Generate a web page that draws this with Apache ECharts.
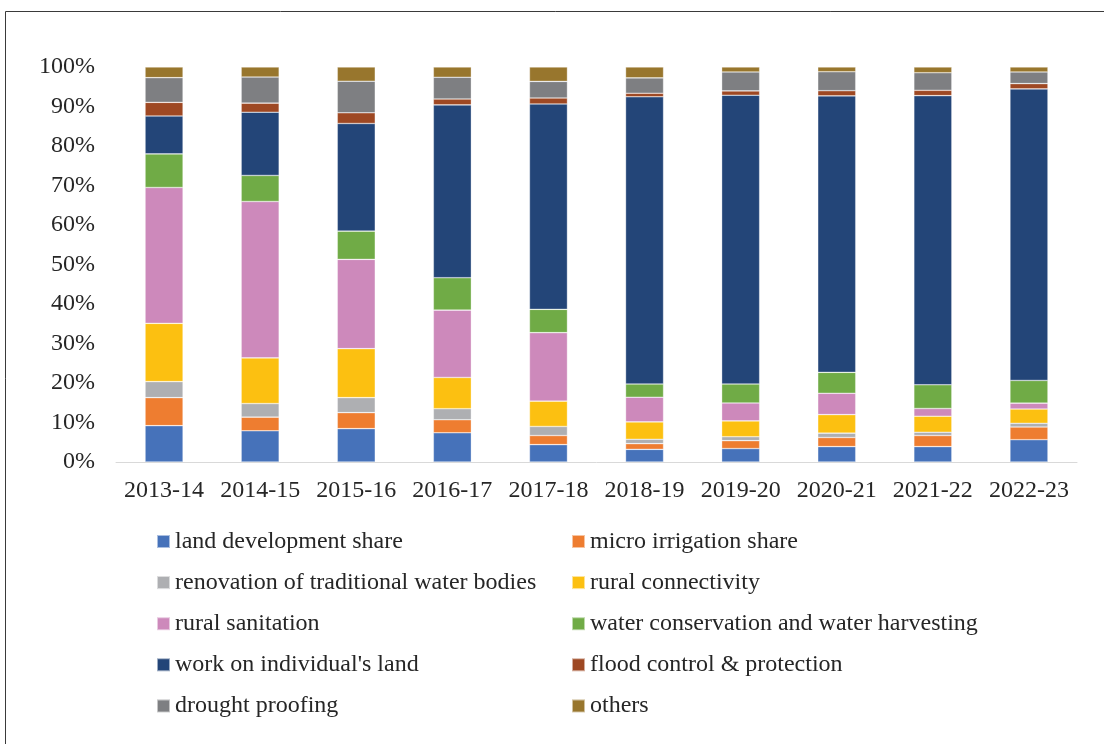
<!DOCTYPE html>
<html>
<head>
<meta charset="utf-8">
<script src="https://cdn.jsdelivr.net/npm/echarts@6/dist/echarts.min.js"></script>
<style>
html,body{margin:0;padding:0;background:#fff;}
#chart{width:1104px;height:744px;}
</style>
</head>
<body>
<div id="chart"></div>
<script>
const categories = ['2013-14','2014-15','2015-16','2016-17','2017-18','2018-19','2019-20','2020-21','2021-22','2022-23'];
const landDevelopment = [9.2, 7.9, 8.45, 7.4, 4.4, 3.2, 3.4, 3.9, 3.9, 5.65];
const microIrrigation = [7.1, 3.45, 4.05, 3.3, 2.3, 1.45, 2.0, 2.3, 2.8, 3.2];
const renovation = [4.05, 3.45, 3.8, 2.8, 2.3, 1.1, 1.0, 1.1, 0.85, 0.95];
const ruralConnectivity = [14.75, 11.55, 12.4, 7.9, 6.4, 4.4, 4.0, 4.7, 4.05, 3.6];
const ruralSanitation = [34.4, 39.6, 22.6, 17.05, 17.35, 6.25, 4.55, 5.4, 1.95, 1.5];
const waterConservation = [8.5, 6.6, 7.15, 8.2, 5.9, 3.35, 4.8, 5.3, 6.0, 5.75];
const individualLand = [9.6, 16.0, 27.25, 43.75, 52.0, 72.7, 73.1, 70.0, 73.2, 73.8];
const floodControl = [3.45, 2.3, 2.7, 1.5, 1.5, 0.9, 1.1, 1.3, 1.35, 1.35];
const droughtProofing = [6.25, 6.6, 8.0, 5.5, 4.2, 3.9, 4.8, 4.8, 4.45, 2.95];
const others = [2.7, 2.55, 3.6, 2.6, 3.65, 2.75, 1.25, 1.2, 1.45, 1.25];
const yTicks = [0,10,20,30,40,50,60,70,80,90,100];

const seriesDefs = [
  ['land development share', landDevelopment, '#4672BA'],
  ['micro irrigation share', microIrrigation, '#EE7D30'],
  ['renovation of traditional water bodies', renovation, '#AEAFB2'],
  ['rural connectivity', ruralConnectivity, '#FCC011'],
  ['rural sanitation', ruralSanitation, '#CD89BB'],
  ['water conservation and water harvesting', waterConservation, '#70AB46'],
  ["work on individual's land", individualLand, '#234578'],
  ['flood control & protection', floodControl, '#9E4823'],
  ['drought proofing', droughtProofing, '#7E7F82'],
  ['others', others, '#98762D']
];

const FONT = '"Liberation Serif", "Times New Roman", serif';
const FS = 24;
const TXT = '#262626';

const chart = echarts.init(document.getElementById('chart'), null, {renderer:'canvas'});
const legendText = {fontFamily: FONT, fontSize: FS, color: TXT, lineHeight: 28};
chart.setOption({
  animation: false,
  backgroundColor: '#fff',
  graphic: [{
    type: 'rect',
    shape: {x: 5.5, y: 11.5, width: 1200, height: 900},
    style: {fill: 'none', stroke: '#3a3a3a', lineWidth: 1},
    silent: true
  }],
  grid: {left: 116, right: 27, top: 67, bottom: 282, containLabel: false},
  legend: [{
    orient: 'vertical', left: 156, top: 527.5, padding: 0,
    itemWidth: 13, itemHeight: 13, itemGap: 13.1,
    textStyle: legendText,
    data: seriesDefs.filter((d,i)=>i%2===0).map(d=>({name:d[0], icon:'rect'}))
  },{
    orient: 'vertical', left: 571, top: 527.5, padding: 0,
    itemWidth: 13, itemHeight: 13, itemGap: 13.1,
    textStyle: legendText,
    data: seriesDefs.filter((d,i)=>i%2===1).map(d=>({name:d[0], icon:'rect'}))
  }],
  xAxis: {
    type: 'category', data: categories,
    axisLine: {lineStyle: {color: '#d9d9d9', width: 1}},
    axisTick: {show: false},
    axisLabel: {fontFamily: FONT, fontSize: FS, color: TXT, margin: 17, interval: 0}
  },
  yAxis: {
    type: 'value', min: 0, max: 100, interval: 10,
    axisLine: {show: false}, axisTick: {show: false},
    splitLine: {show: false},
    axisLabel: {fontFamily: FONT, fontSize: FS, color: TXT, margin: 21, padding: [4,0,0,0], formatter: '{value}%'}
  },
  series: seriesDefs.map(d => ({
    name: d[0], type: 'bar', stack: 'total', data: d[1],
    barWidth: 38,
    itemStyle: {color: d[2], borderColor: 'rgba(255,255,255,0.55)', borderWidth: 0.6}
  }))
});
</script>
</body>
</html>
